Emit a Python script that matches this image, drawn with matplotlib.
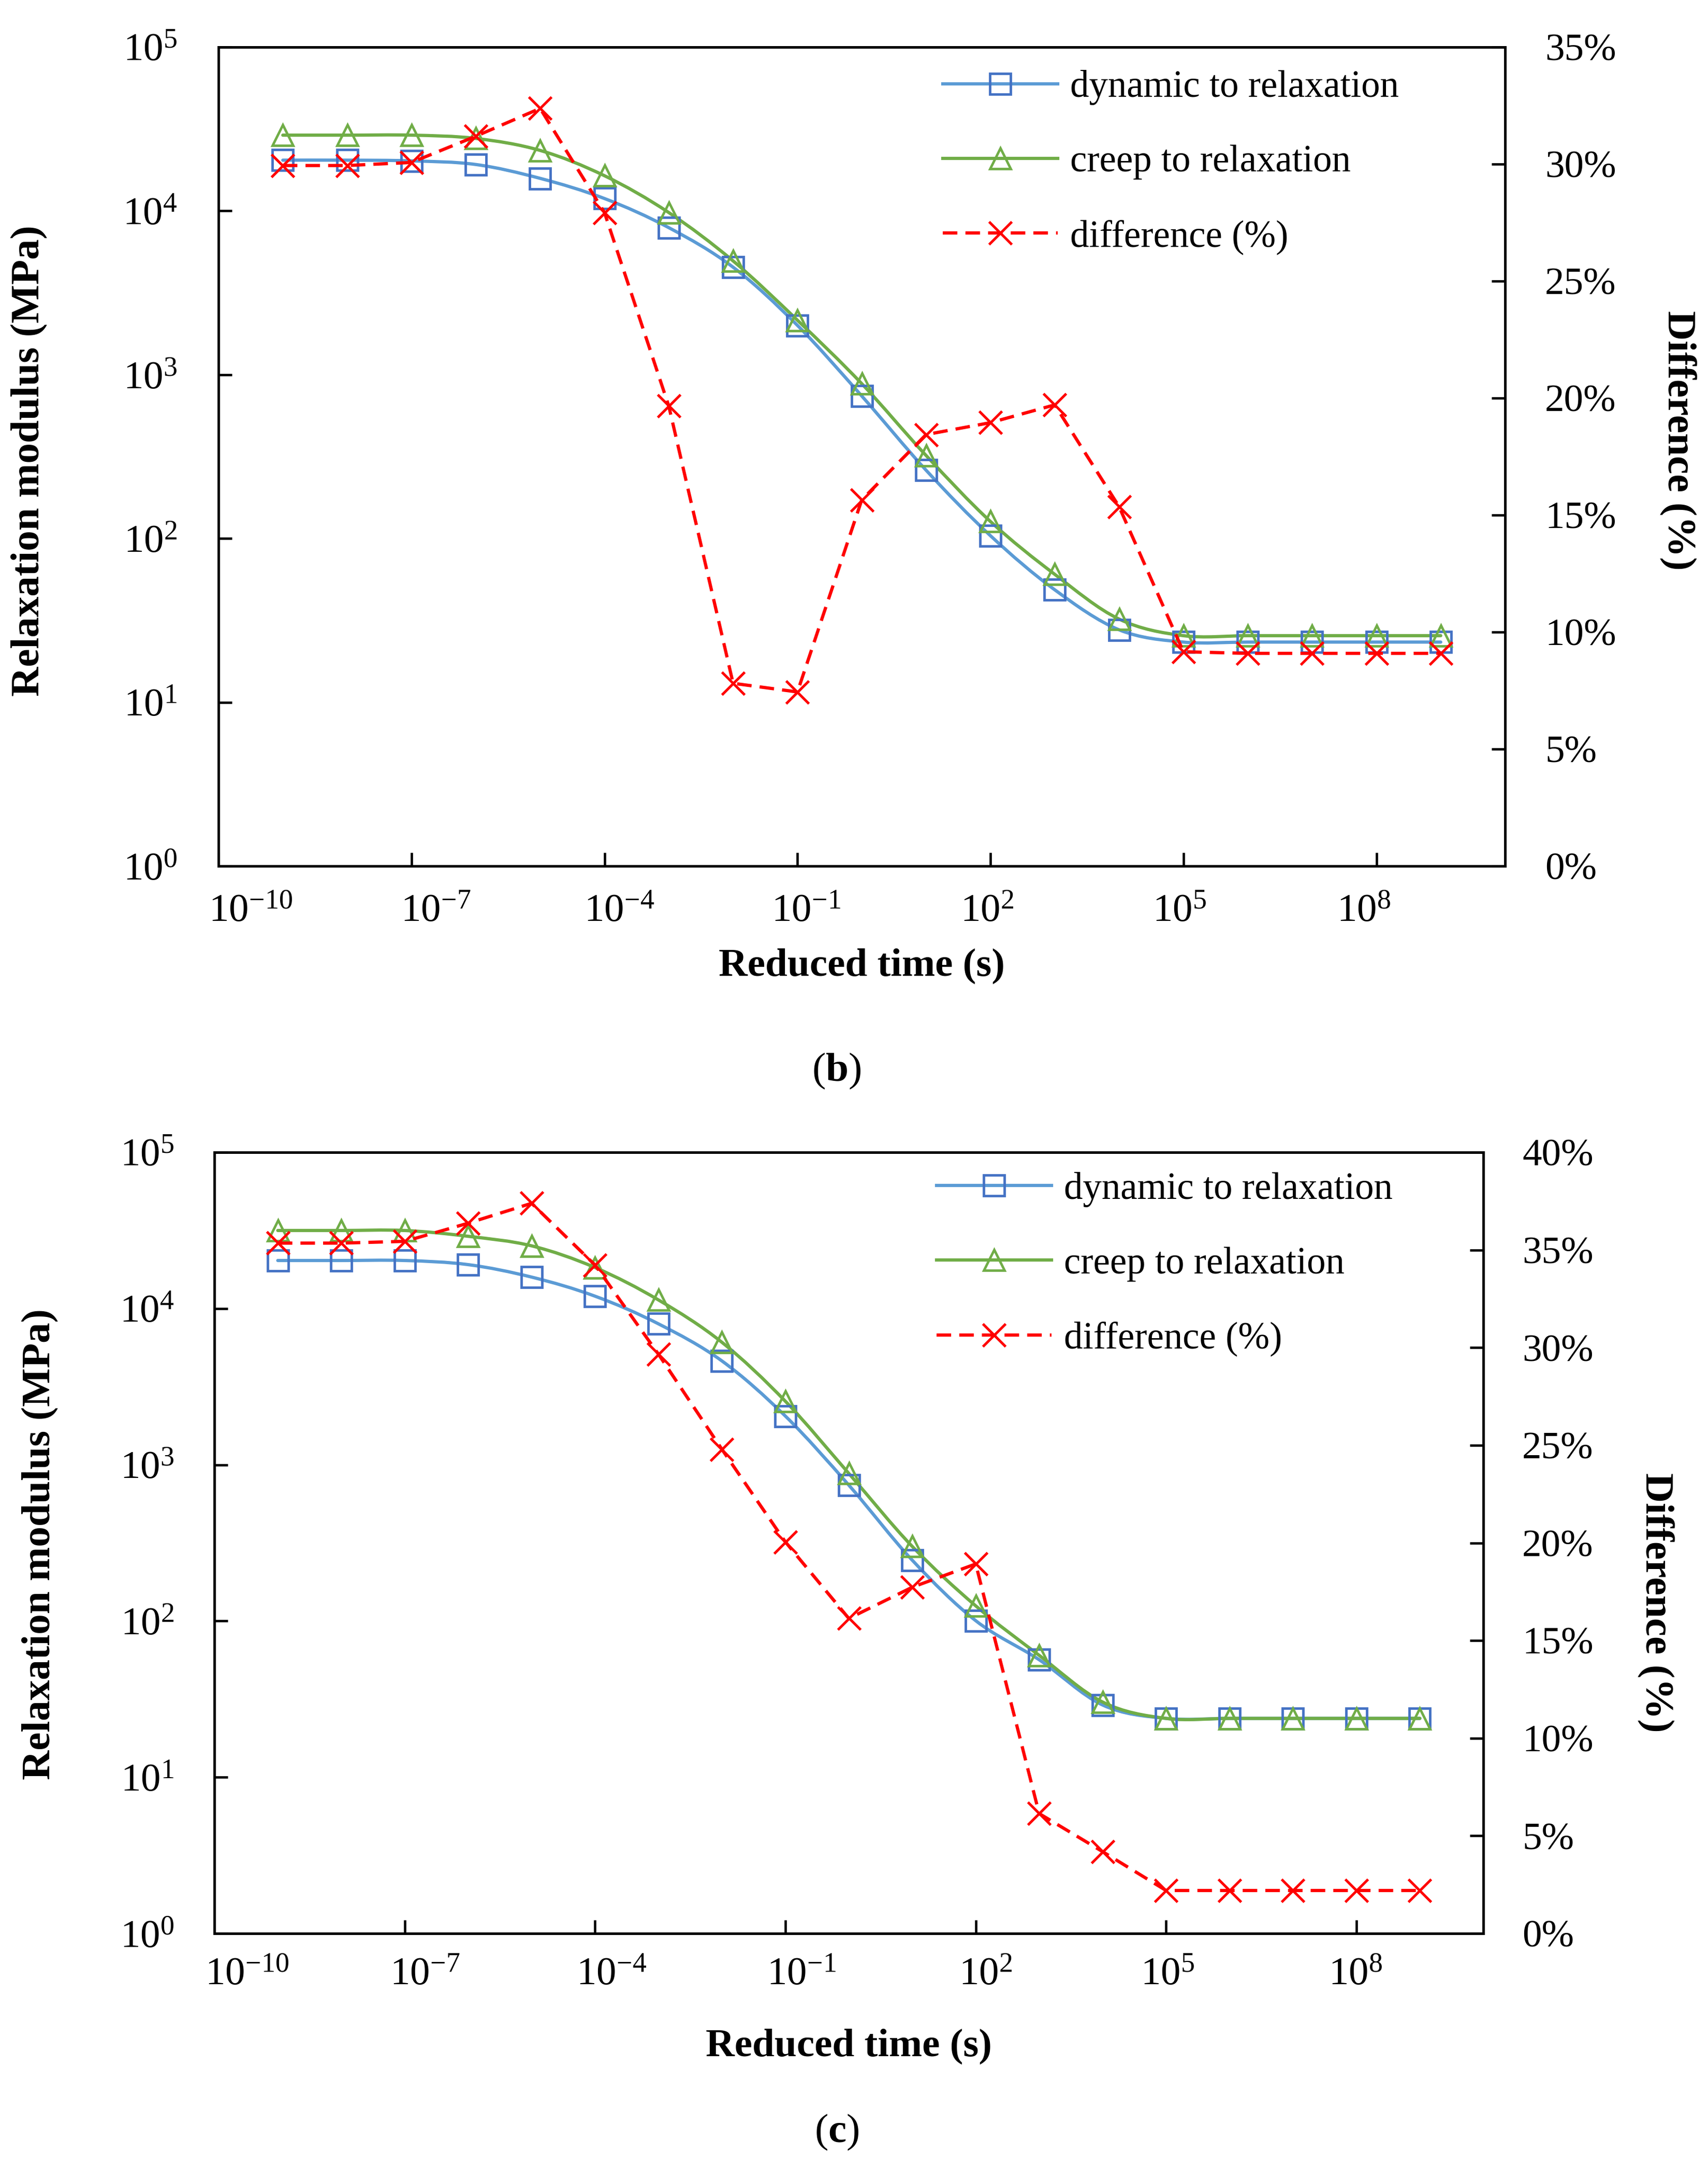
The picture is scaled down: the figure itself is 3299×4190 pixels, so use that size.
import numpy as np
import matplotlib
matplotlib.use("Agg")
import matplotlib.pyplot as plt
from matplotlib.path import Path
from matplotlib.patches import PathPatch
from matplotlib.lines import Line2D
from matplotlib.transforms import ScaledTranslation
from matplotlib.ticker import FixedLocator, FuncFormatter, NullLocator

plt.rcParams["font.family"] = "Liberation Serif"
plt.rcParams["mathtext.fontset"] = "custom"
plt.rcParams["mathtext.rm"] = "Liberation Serif"
plt.rcParams["mathtext.bf"] = "Liberation Serif:bold"

# reduced time, exponents of 10 (one point per decade)
TIME_EXP = [-9, -8, -7, -6, -5, -4, -3, -2, -1, 0, 1, 2, 3, 4, 5, 6, 7, 8, 9]
X_TICK_EXP = [-10, -7, -4, -1, 2, 5, 8]
Y_TICK_EXP = [0, 1, 2, 3, 4, 5]

# panel (b)
DYN_B = [2.04e4, 2.04e4, 2.02e4, 1.92e4, 1.58e4, 1.19e4, 7.9e3, 4.53e3, 2.0e3,
         741, 261, 104, 48.6, 27.7, 23.3, 23.3, 23.3, 23.3, 23.3]
CREEP_B = [2.90e4, 2.90e4, 2.90e4, 2.77e4, 2.34e4, 1.64e4, 9.77e3, 4.95e3, 2.15e3,
           881, 321, 127, 60.4, 32.2, 25.5, 25.5, 25.5, 25.5, 25.5]
DIFF_B = [29.94, 29.94, 30.07, 31.19, 32.38, 27.93, 19.66, 7.81, 7.44,
          15.65, 18.44, 18.95, 19.71, 15.36, 9.16, 9.09, 9.09, 9.09, 9.09]

# panel (c)
DYN_C = [2.03e4, 2.03e4, 2.03e4, 1.91e4, 1.59e4, 1.20e4, 7.98e3, 4.62e3, 2.05e3,
         741, 245, 100.5, 56.5, 29.0, 23.8, 23.8, 23.8, 23.8, 23.8]
CREEP_C = [3.16e4, 3.16e4, 3.16e4, 2.90e4, 2.52e4, 1.83e4, 1.135e4, 6.08e3, 2.55e3,
           880, 300, 125, 60.3, 30.3, 23.8, 23.8, 23.8, 23.8, 23.8]
DIFF_C = [35.35, 35.35, 35.44, 36.37, 37.39, 34.23, 29.66, 24.79, 20.05,
          16.13, 17.73, 18.92, 6.14, 4.19, 2.2, 2.2, 2.2, 2.2, 2.2]

LABELS = ["dynamic to relaxation", "creep to relaxation", "difference (%)"]

BLUE_LINE, BLUE_MARK = "#5B9BD5", "#4472C4"
GREEN = "#70AD47"
RED = "#FF0000"
LW, MS, MEW = 1.5, 9.6, 1.15
DASH = (4.5, 2.5)

# the original x tick labels sit a little off their ticks (pixels at 300 dpi)
XLAB_SHIFT_B = [62, 47, 29, 17, -6, -7, -24]
XLAB_SHIFT_C = [63, 39, 32, 31, 19, 3, -2]


def smooth_path(x, y):
    """Excel-like smoothed line: cubic Bezier through the points in log-log space."""
    pts = np.column_stack([np.log10(x), np.log10(y)])
    prev = np.vstack([pts[:1], pts[:-1]])
    nxt = np.vstack([pts[1:], pts[-1:]])
    tang = (nxt - prev) / 6.0
    verts, codes = [pts[0]], [Path.MOVETO]
    for i in range(len(pts) - 1):
        verts += [pts[i] + tang[i], pts[i + 1] - tang[i + 1], pts[i + 1]]
        codes += [Path.CURVE4] * 3
    return Path(10.0 ** np.array(verts), codes)


def panel(fig, rect, dyn, creep, diff, diff_max, leg_anchor, xlab_y, ylab_l, ylab_r,
          xpad, ylpad, yrpad, xshift):
    t = 10.0 ** np.array(TIME_EXP, dtype=float)
    ax = fig.add_axes(rect)
    ax.set_xscale("log")
    ax.set_yscale("log")
    ax.set_xlim(1e-10, 1e10)
    ax.set_ylim(1, 1e5)

    for y, lc, mc, mk in ((dyn, BLUE_LINE, BLUE_MARK, "s"), (creep, GREEN, GREEN, "^")):
        ax.add_patch(PathPatch(smooth_path(t, y), fill=False, edgecolor=lc, lw=LW,
                               capstyle="round", joinstyle="round"))
        ax.plot(t, y, ls="none", marker=mk, ms=MS, mfc="none", mec=mc, mew=MEW)

    ax.xaxis.set_major_locator(FixedLocator([10.0 ** e for e in X_TICK_EXP]))
    ax.yaxis.set_major_locator(FixedLocator([10.0 ** e for e in Y_TICK_EXP]))
    ax.xaxis.set_minor_locator(NullLocator())
    ax.yaxis.set_minor_locator(NullLocator())
    pow_fmt = FuncFormatter(lambda v, p: r"$\mathrm{10^{%d}}$" % int(round(np.log10(v))))
    ax.xaxis.set_major_formatter(pow_fmt)
    ax.yaxis.set_major_formatter(pow_fmt)
    ax.tick_params(axis="both", direction="in", length=6.2, width=1.1, labelsize=18.5)
    ax.tick_params(axis="x", pad=xpad, top=False)
    ax.tick_params(axis="y", pad=ylpad, right=False)
    for tick, dx in zip(ax.xaxis.get_major_ticks(), xshift):
        tick.label1.set_transform(tick.label1.get_transform()
                                  + ScaledTranslation(dx / 300, 0, fig.dpi_scale_trans))

    ax2 = ax.twinx()
    ax2.set_ylim(0, diff_max)
    ax2.plot(t, diff, color=RED, lw=LW, dashes=DASH, marker="x", ms=10.5,
             mec=RED, mew=1.2)
    ax2.yaxis.set_major_locator(FixedLocator(np.arange(0, diff_max + 0.1, 5)))
    ax2.yaxis.set_major_formatter(FuncFormatter(lambda v, p: f"{v:.0f}%"))
    ax2.tick_params(axis="y", direction="in", length=6.2, width=1.1, labelsize=18,
                    pad=yrpad)

    for a in (ax, ax2):
        for s in a.spines.values():
            s.set_linewidth(1.1)

    ax.set_xlabel("Reduced time (s)", fontsize=18.5, fontweight="bold", va="center")
    ax.xaxis.set_label_coords(0.5, xlab_y)
    ax.set_ylabel("Relaxation modulus (MPa)", fontsize=19, fontweight="bold",
                  va="center")
    ax.yaxis.set_label_coords(*ylab_l)
    ax2.set_ylabel("Difference (%)", fontsize=19, fontweight="bold", rotation=270,
                   va="center")
    ax2.yaxis.set_label_coords(*ylab_r)

    handles = [
        Line2D([], [], color=BLUE_LINE, lw=LW, marker="s", ms=MS, mfc="none",
               mec=BLUE_MARK, mew=MEW),
        Line2D([], [], color=GREEN, lw=LW, marker="^", ms=MS, mfc="none",
               mec=GREEN, mew=MEW),
        Line2D([], [], color=RED, lw=LW, dashes=DASH, marker="x", ms=10.5,
               mec=RED, mew=1.2),
    ]
    ax2.legend(handles, LABELS, loc="upper left", bbox_to_anchor=leg_anchor,
               frameon=False, borderpad=0, borderaxespad=0, handlelength=3.05,
               handletextpad=0.33, labelspacing=1.05, fontsize=17.5, numpoints=1)
    return ax, ax2


W, H = 3299, 4190
fig = plt.figure(figsize=(W / 300, H / 300), dpi=300)

panel(fig, [422 / W, 1 - 1673 / H, 2485 / W, 1582 / H], DYN_B, CREEP_B, DIFF_B, 35,
      (0.5628, 0.972), -0.122, (-0.1469, 0.495), (1.1345, 0.520), 13, 19, 18.5,
      XLAB_SHIFT_B)
fig.text(1616 / W, 1 - 2069 / H, r"($\mathbf{b}$)", ha="center", va="center",
         fontsize=19)

panel(fig, [414 / W, 1 - 3735 / H, 2451 / W, 1509 / H], DYN_C, CREEP_C, DIFF_C, 40,
      (0.569, 0.975), -0.1445, (-0.1371, 0.498), (1.1359, 0.4235), 11, 18.5, 18,
      XLAB_SHIFT_C)
fig.text(1616 / W, 1 - 4119 / H, r"($\mathbf{c}$)", ha="center", va="center",
         fontsize=19)

fig.savefig("out.png", dpi=300)
